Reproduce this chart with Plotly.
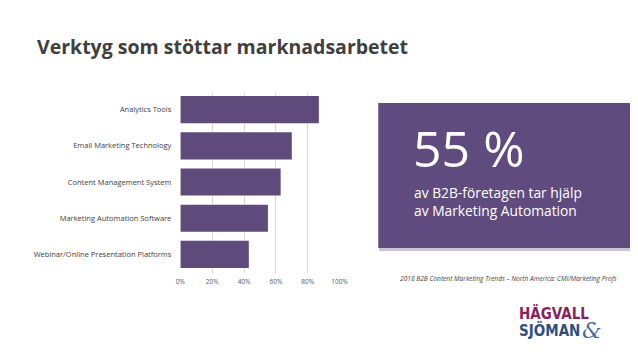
import plotly.graph_objects as go

categories = ["Analytics Tools", "Email Marketing Technology", "Content Management System",
              "Marketing Automation Software", "Webinar/Online Presentation Platforms"]
values = [0.87, 0.70, 0.63, 0.55, 0.43]
tick_vals = [0, 0.2, 0.4, 0.6, 0.8, 1.0]
tick_text = ["0%", "20%", "40%", "60%", "80%", "100%"]

W, H = 638, 359
def px(x): return x / W
def py(y): return 1 - y / H

BAR = "#5e4a7b"
TXT = "#404040"

fig = go.Figure(go.Bar(
    x=values, y=categories, orientation="h",
    marker=dict(color=BAR, line=dict(width=0)),
    hoverinfo="skip",
))

fig.update_layout(
    width=W, height=H,
    margin=dict(l=0, r=0, t=0, b=0),
    paper_bgcolor="white", plot_bgcolor="white",
    showlegend=False, bargap=0.25,
    font=dict(family="Open Sans, DejaVu Sans, sans-serif", color=TXT),
    xaxis=dict(domain=[px(179), px(342)], range=[0, 1.003],
               tickvals=tick_vals, ticktext=tick_text,
               tickfont=dict(size=6.5, color="#595959"),
               showgrid=True, gridcolor="#d9d9d9", gridwidth=1,
               zeroline=False, showline=False, ticks="", ticklabelstandoff=4),
    yaxis=dict(domain=[py(272.5), py(91.5)], autorange="reversed",
               tickfont=dict(size=7.5, color=TXT), ticks="",
               showgrid=False, zeroline=False, showline=False,
               ticklabelstandoff=8),
)

shapes = [
    dict(type="rect", xref="paper", yref="paper", x0=px(382), x1=1.0,
         y0=py(251), y1=py(105), fillcolor="#c9c3d2", line=dict(width=0), layer="above"),
    dict(type="rect", xref="paper", yref="paper", x0=px(381), x1=1.0,
         y0=py(248), y1=py(103), fillcolor="#5f4b7e", line=dict(width=0), layer="above"),
]
fig.update_layout(shapes=shapes)

LOGO_FONT = "DejaVu Sans Condensed, Liberation Sans Narrow, Arial Narrow, sans-serif"
ann = [
    dict(text="<b>Verktyg som stöttar marknadsarbetet</b>", x=px(31), y=py(46),
         xanchor="left", yanchor="middle", font=dict(size=19.5, color=TXT,
         family="Open Sans, sans-serif")),
    dict(text="55 %", x=px(414), y=py(148), xanchor="left", yanchor="middle",
         font=dict(size=50, color="white", family="Open Sans, sans-serif")),
    dict(text="av B2B-företagen tar hjälp<br>av Marketing Automation", x=px(415), y=py(201),
         xanchor="left", yanchor="middle", align="left",
         font=dict(size=13.8, color="white", family="Open Sans, sans-serif")),
    dict(text="<i>2018 B2B Content Marketing Trends – North America: CMI/Marketing Profs</i>",
         x=px(401), y=py(278), xanchor="left", yanchor="middle",
         font=dict(size=6.6, color=TXT, family="Open Sans, sans-serif")),
    dict(text="<b>HÄGVALL</b>", x=px(523), y=py(313), xanchor="left", yanchor="middle",
         font=dict(size=15, color="#8b1f5f", family=LOGO_FONT)),
    dict(text="<b>SJÖMAN</b>", x=px(523), y=py(330), xanchor="left", yanchor="middle",
         font=dict(size=15, color="#2e4f7f", family=LOGO_FONT)),
    dict(text="<i>&amp;</i>", x=px(587), y=py(330), xanchor="left", yanchor="middle",
         font=dict(size=22, color="#4a6a9a", family="DejaVu Serif, serif")),
]
for a in ann:
    a.update(xref="paper", yref="paper", showarrow=False)
fig.update_layout(annotations=ann)

fig.write_html("out.html", config={"displayModeBar": False},
               post_script="document.body.style.margin='0';document.body.style.padding='0';")
